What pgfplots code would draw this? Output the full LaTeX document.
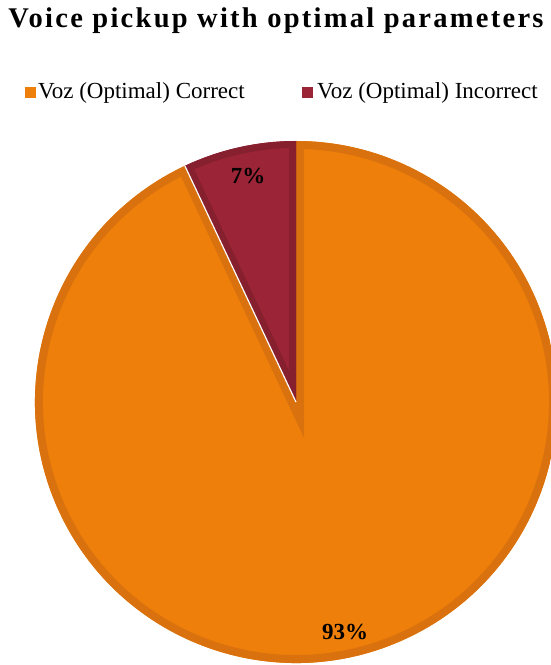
\documentclass[border=0pt]{standalone}
\usepackage{fontspec}
\setmainfont{Liberation Serif}
\usepackage{pgfplots}
\pgfplotsset{compat=1.18}
\definecolor{orA}{RGB}{238,127,10}
\definecolor{orB}{RGB}{217,114,14}
\definecolor{rdA}{RGB}{155,37,54}
\definecolor{rdB}{RGB}{134,31,46}
\begin{document}
\begin{tikzpicture}
\def\valA{93}\def\valB{7}
\pgfmathsetmacro{\angB}{90+360*\valB/(\valA+\valB)}
\begin{axis}[x=1pt,y=1pt,
  xmin=0,xmax=551,ymin=0,ymax=665,hide axis,clip=true]
% orange slice (Correct)
\fill[orA] (axis cs:296,263) -- +(\angB:261pt) arc[start angle=\angB,end angle=450,radius=261pt] -- cycle;
\begin{scope}
\clip (axis cs:296,263) -- +(\angB:261pt) arc[start angle=\angB,end angle=450,radius=261pt] -- cycle;
\draw[orB,line width=16pt,line join=miter] (axis cs:296,263) -- +(\angB:261pt) arc[start angle=\angB,end angle=450,radius=261pt] -- cycle;
\end{scope}
% red slice (Incorrect)
\fill[rdA] (axis cs:296,263) -- +(90:261pt) arc[start angle=90,end angle=\angB,radius=261pt] -- cycle;
\begin{scope}
\clip (axis cs:296,263) -- +(90:261pt) arc[start angle=90,end angle=\angB,radius=261pt] -- cycle;
\draw[rdB,line width=14pt,line join=miter] (axis cs:296,263) -- +(90:261pt) arc[start angle=90,end angle=\angB,radius=261pt] -- cycle;
\end{scope}
\draw[white,line width=1.2pt] (axis cs:296,263) -- +(\angB:261pt);
% data labels
\node[font=\bfseries\fontsize{23}{26}\selectfont,inner sep=0pt] at (axis cs:248,489) {7\%};
\node[font=\bfseries\fontsize{23}{26}\selectfont,inner sep=0pt] at (axis cs:345,33) {93\%};
% title
\node[font=\bfseries\fontsize{28.5}{32}\selectfont\addfontfeature{LetterSpace=8},anchor=base,inner sep=0pt] at (axis cs:276,637.5) {Voice pickup with optimal parameters};
% legend
\fill[orA] (axis cs:25,567) rectangle (axis cs:35.5,578);
\node[font=\fontsize{23}{26}\selectfont,anchor=base west,inner sep=0pt] at (axis cs:38,566) {Voz (Optimal) Correct};
\fill[rdA] (axis cs:302,567) rectangle (axis cs:313,578);
\node[font=\fontsize{23}{26}\selectfont,anchor=base west,inner sep=0pt] at (axis cs:317,566) {Voz (Optimal) Incorrect};
\end{axis}
\pgfresetboundingbox
\useasboundingbox (current axis.south west) rectangle (current axis.north east);
\end{tikzpicture}
\end{document}
